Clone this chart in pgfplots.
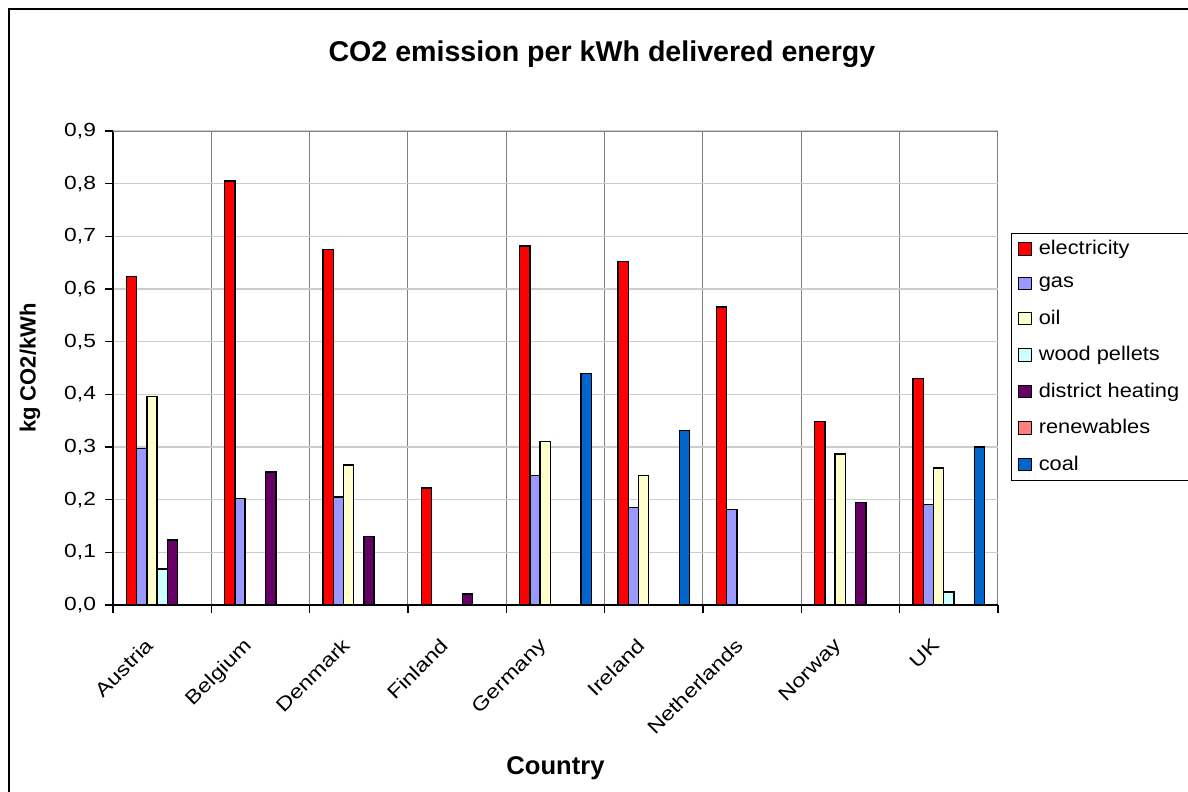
\documentclass[border=0pt]{standalone}
\usepackage{pgfplots}
\pgfplotsset{compat=1.18}
\usepackage{pgfplotstable}
\usepackage{fontspec}
\setmainfont{Liberation Sans}
\newfontfamily\tickfont[FakeStretch=1.2]{Liberation Sans}
\newfontfamily\legfont[FakeStretch=1.1]{Liberation Sans}
\definecolor{cElec}{HTML}{FF0000}
\definecolor{cGas}{HTML}{9999FF}
\definecolor{cOil}{HTML}{FFFFCC}
\definecolor{cWood}{HTML}{CCFFFF}
\definecolor{cDist}{HTML}{660066}
\definecolor{cRen}{HTML}{FF8080}
\definecolor{cCoal}{HTML}{0066CC}
\pgfplotsset{sqlegend/.style={legend image code/.code={\draw[##1,draw=black,line width=0.6pt] (0pt,-3pt) rectangle (6.5pt,3.2pt);}}}
\pgfplotsset{barstyle/.style={draw=black, line width=0.75pt}}

\pgfplotstableread{
x y
0 0.624
1 0.805
2 0.675
3 0.222
4 0.682
5 0.652
6 0.566
7 0.348
8 0.430
}\elec
\pgfplotstableread{
x y
0 0.297
1 0.202
2 0.205
4 0.246
5 0.185
6 0.181
8 0.191
}\gas
\pgfplotstableread{
x y
0 0.396
2 0.266
4 0.310
5 0.246
7 0.287
8 0.260
}\oil
\pgfplotstableread{
x y
0 0.068
8 0.025
}\wood
\pgfplotstableread{
x y
0 0.123
1 0.253
2 0.130
3 0.021
7 0.195
}\dist
\pgfplotstableread{
x y
4 0.440
5 0.331
8 0.300
}\coal

\begin{document}
\begin{tikzpicture}
\useasboundingbox (0,0) rectangle (594pt,396pt);
\fill[white] (0,0) rectangle (594pt,396pt);
\draw[black, line width=0.6pt] (4.5pt,0) -- (4.5pt,391.5pt) -- (600pt,391.5pt);
\begin{axis}[
  at={(56.5pt,93.5pt)}, anchor=south west,
  scale only axis, width=442.5pt, height=237pt,
  ybar, bar width=0.104,
  xmin=-0.5, xmax=8.5, ymin=0, ymax=0.9,
  axis lines*=left,
  axis line style={black, line width=0.6pt},
  tick align=outside,
  xtick={0,...,8},
  xticklabels={Austria,Belgium,Denmark,Finland,Germany,Ireland,Netherlands,Norway,UK},
  minor xtick={-0.5,0.5,...,8.5},
  major x tick style={draw=none},
  minor x tick style={black, line width=0.6pt},
  ytick={0,0.1,...,0.9},
  y tick style={black, line width=0.6pt},
  major tick length=4pt, minor tick length=4pt,
  xmajorgrids=false, xminorgrids=true,
  minor x grid style={gray, line width=0.5pt},
  ymajorgrids=true,
  major y grid style={black!20, line width=0.6pt},
  /pgf/number format/assume math mode=true,
  yticklabel={\pgfmathprintnumber[use comma, fixed, fixed zerofill, precision=1]{\tick}},
  yticklabel style={font=\tickfont\fontsize{9.5}{10}\selectfont, xshift=-1pt},
  xticklabel style={font=\tickfont\fontsize{9.7}{10}\selectfont, xshift=-9pt, yshift=-7pt, rotate=45, anchor=north east},
  every axis title shift=0pt,
  title={\bfseries CO2 emission per kWh delivered energy},
  title style={font=\fontsize{14.3}{16}\selectfont, at={(axis description cs:0.5525,1.1477)}, anchor=base},
  xlabel={\bfseries Country},
  xlabel style={font=\fontsize{12.8}{14}\selectfont, at={(axis description cs:0.5,-0.3586)}, anchor=base},
  ylabel={\bfseries kg CO2/kWh},
  ylabel style={font=\fontsize{11}{12}\selectfont, at={(axis description cs:-0.0938,0.5)}, anchor=center},
  legend style={at={(axis description cs:1.0147,0.785)}, anchor=north west,
    draw=black, line width=0.6pt, font=\legfont\fontsize{9.9}{11}\selectfont,
    row sep=5.6pt, inner xsep=3pt, inner ysep=1.5pt, cells={anchor=west},
    nodes={inner xsep=3.5pt}},
  legend cell align=left,
]
\addplot[barstyle, fill=cElec, bar shift=-0.312, sqlegend] table {\elec};
\addplot[barstyle, fill=cGas, bar shift=-0.208, sqlegend] table {\gas};
\addplot[barstyle, fill=cOil, bar shift=-0.104, sqlegend] table {\oil};
\addplot[barstyle, fill=cWood, bar shift=0, sqlegend] table {\wood};
\addplot[barstyle, fill=cDist, bar shift=0.104, sqlegend] table {\dist};
\addlegendimage{fill=cRen, sqlegend}
\addplot[barstyle, fill=cCoal, bar shift=0.312, sqlegend] table {\coal};
\legend{electricity,gas,oil,wood pellets,district heating,renewables,coal}
\draw[gray, line width=0.5pt] (rel axis cs:0,1) -- (rel axis cs:1,1);
\end{axis}
\end{tikzpicture}
\end{document}
